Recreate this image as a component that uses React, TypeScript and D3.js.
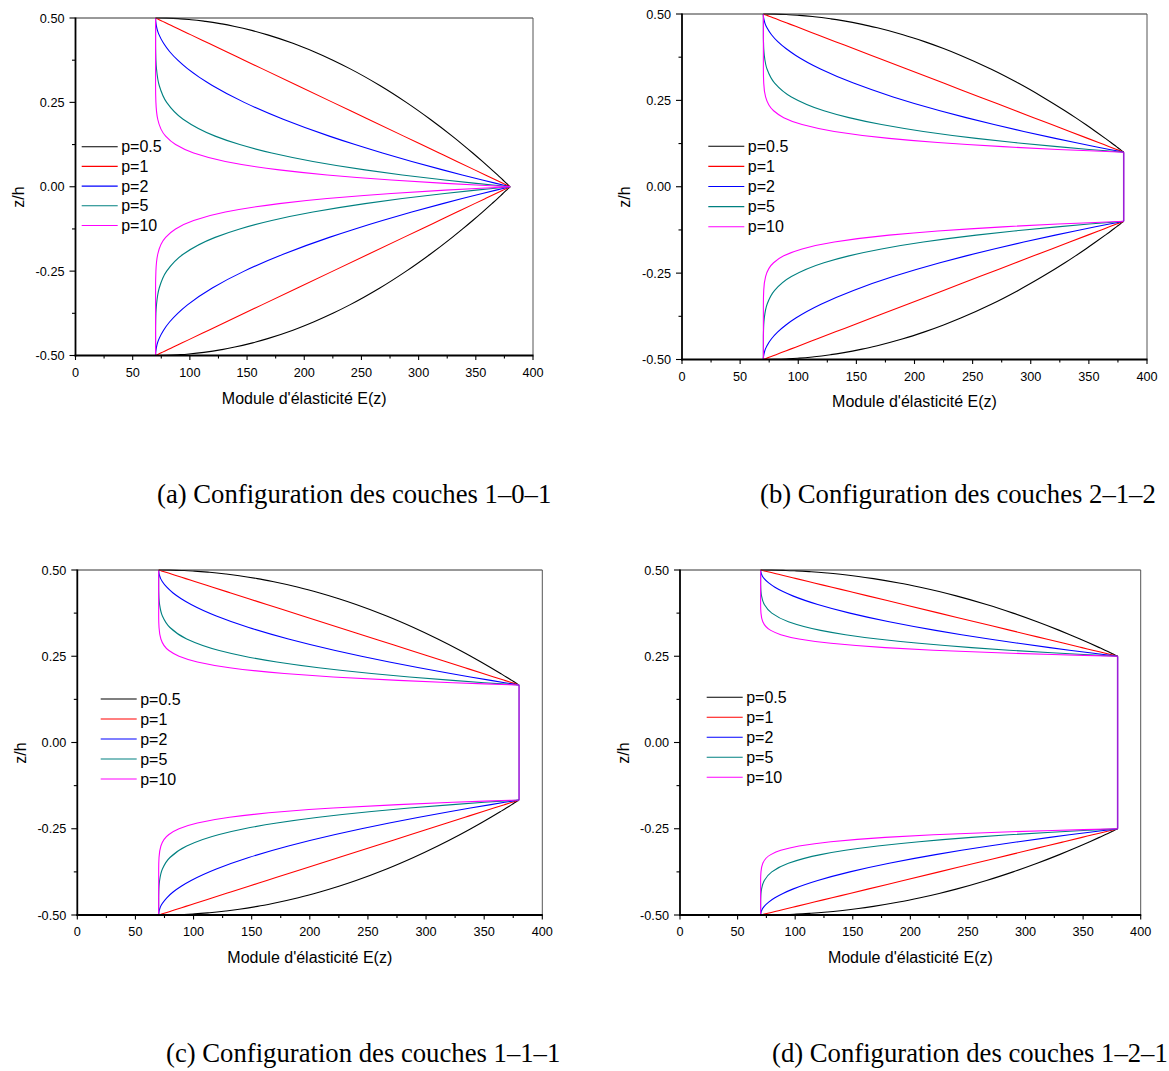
import React from "react";
import * as d3 from "d3";

// Fraction of a face sheet thickness, measured from the outer (metal) surface toward the core
const T_FRAC = [0, 0.001, 0.005, 0.01, 0.02, 0.035, 0.05, 0.075, 0.1, 0.15, 0.2, 0.25, 0.3, 0.4, 0.5, 0.6, 0.7, 0.75, 0.8, 0.85, 0.9, 0.93, 0.96, 0.98, 0.99, 1];

// Young's modulus E read along each face sheet for each power-law index p
const E_P05 = [70, 79.8, 91.9, 101, 113.8, 128.0, 139.3, 154.9, 168.0, 190.1, 208.6, 225, 239.8, 266.1, 289.2, 310.1, 329.4, 338.5, 347.3, 355.8, 364.1, 369.0, 373.7, 376.9, 378.4, 380];
const E_P1 = [70, 70.3, 71.6, 73.1, 76.2, 80.9, 85.5, 93.3, 101, 116.5, 132, 147.5, 163, 194, 225, 256, 287, 302.5, 318, 333.5, 349, 358.3, 367.6, 373.8, 376.9, 380];
const E_P2 = [70, 70, 70, 70, 70.1, 70.4, 70.8, 71.7, 73.1, 77.0, 82.4, 89.4, 97.9, 119.6, 147.5, 181.6, 221.9, 244.4, 268.4, 294.0, 321.1, 338.1, 355.7, 367.7, 373.8, 380];
const E_P5 = [70, 70, 70, 70, 70, 70, 70, 70, 70, 70, 70.1, 70.3, 70.8, 73.2, 79.7, 94.1, 122.1, 143.6, 171.6, 207.6, 253.1, 285.7, 322.8, 350.2, 364.8, 380];
const E_P10 = [70, 70, 70, 70, 70, 70, 70, 70, 70, 70, 70, 70, 70, 70, 70.3, 71.9, 78.8, 87.5, 103.3, 131.0, 178.1, 220.0, 276.1, 323.3, 350.4, 380];

const SERIES_LABELS = ["p=0.5", "p=1", "p=2", "p=5", "p=10"];
const SERIES_VALUES = [E_P05, E_P1, E_P2, E_P5, E_P10];
const SERIES_COLORS = ["#000000", "#ff0000", "#0000ff", "#008080", "#ff00ff"];

// Half-thickness of the ceramic core (z/h) for each configuration
const CORE_HALF = [0, 0.1, 0.1667, 0.25];
const CORE_E = 380;
const CAPTIONS = [
  "(a) Configuration des couches 1\u20130\u20131",
  "(b) Configuration des couches 2\u20131\u20132",
  "(c) Configuration des couches 1\u20131\u20131",
  "(d) Configuration des couches 1\u20132\u20131",
];

const X_TICKS = [0, 50, 100, 150, 200, 250, 300, 350, 400];
const X_MINOR = [25, 75, 125, 175, 225, 275, 325, 375];
const Y_TICKS = [-0.5, -0.25, 0, 0.25, 0.5];
const Y_MINOR = [-0.375, -0.125, 0.125, 0.375];

const X_LABEL = "Module d'élasticité E(z)";
const Y_LABEL = "z/h";

// Layout (pixels)
const PANELS = [
  { l: 75.5, r: 533, t: 18, b: 355.5, legX: 81.7, legY: 146.7, legDy: 19.7, yLabX: 24, yLabY: 197, xLabY: 404, capX: 157, capY: 503 },
  { l: 682, r: 1147, t: 14, b: 359.5, legX: 708.3, legY: 146.3, legDy: 20.1, yLabX: 630, yLabY: 197, xLabY: 407, capX: 760, capY: 503 },
  { l: 77.3, r: 542.3, t: 570, b: 915, legX: 100.7, legY: 699, legDy: 20, yLabX: 26, yLabY: 753, xLabY: 963, capX: 166, capY: 1062 },
  { l: 680, r: 1140.7, t: 570, b: 915, legX: 706.7, legY: 697.3, legDy: 20, yLabX: 629, yLabY: 753, xLabY: 963, capX: 772, capY: 1062 },
];

const SANS = "Arial, 'Liberation Sans', Helvetica, sans-serif";
const SERIF = "'Times New Roman', 'Liberation Serif', Times, serif";

function fmtY(v: number) {
  return v.toFixed(2);
}

function Panel({ idx }: { idx: number }) {
  const P = PANELS[idx];
  const c = CORE_HALF[idx];
  const x = d3.scaleLinear().domain([0, 400]).range([P.l, P.r]);
  const y = d3.scaleLinear().domain([-0.5, 0.5]).range([P.b, P.t]);
  const line = d3
    .line<[number, number]>()
    .x((d) => x(d[0]))
    .y((d) => y(d[1]))
    .curve(d3.curveMonotoneY);

  const paths = SERIES_VALUES.map((vals, si) => {
    // bottom face sheet: z from -0.5 up to -c
    const bottom: [number, number][] = T_FRAC.map((t, i) => [vals[i], -0.5 + t * (0.5 - c)]);
    // top face sheet: z from c up to 0.5
    const top: [number, number][] = T_FRAC.map((t, i) => [vals[i], 0.5 - t * (0.5 - c)]).reverse() as [number, number][];
    return { bottom: line(bottom)!, top: line(top)!, color: SERIES_COLORS[si] };
  });

  const legLen = 36;
  return (
    <g>
      {/* curves */}
      {paths.map((p, i) => (
        <g key={i} fill="none" stroke={p.color} strokeWidth={1.1}>
          <path d={p.bottom} />
          <path d={p.top} />
        </g>
      ))}
      {c > 0 && (
        <line x1={x(CORE_E)} x2={x(CORE_E)} y1={y(-c)} y2={y(c)} stroke="#9c1ed8" strokeWidth={1.6} />
      )}
      {/* frame: top & right thin */}
      <line x1={P.l} x2={P.r} y1={P.t} y2={P.t} stroke="#333" strokeWidth={1} />
      <line x1={P.r} x2={P.r} y1={P.t} y2={P.b} stroke="#555" strokeWidth={1} />
      {/* left & bottom axes */}
      <line x1={P.l} x2={P.l} y1={P.t - 0.5} y2={P.b + 0.9} stroke="#000" strokeWidth={1.8} />
      <line x1={P.l - 0.9} x2={P.r + 0.5} y1={P.b} y2={P.b} stroke="#000" strokeWidth={1.8} />
      {/* x ticks */}
      {X_TICKS.map((v) => (
        <g key={"xt" + v}>
          <line x1={x(v)} x2={x(v)} y1={P.b} y2={P.b + 4.5} stroke="#000" strokeWidth={1.1} />
          <text x={x(v)} y={P.b + 21} textAnchor="middle" fontSize={12.7} fontFamily={SANS} fill="#000">
            {v}
          </text>
        </g>
      ))}
      {X_MINOR.map((v) => (
        <line key={"xm" + v} x1={x(v)} x2={x(v)} y1={P.b} y2={P.b + 3} stroke="#000" strokeWidth={1.1} />
      ))}
      {/* y ticks */}
      {Y_TICKS.map((v) => (
        <g key={"yt" + v}>
          <line x1={P.l - 6} x2={P.l} y1={y(v)} y2={y(v)} stroke="#000" strokeWidth={1.1} />
          <text x={P.l - 11} y={y(v) + 4.5} textAnchor="end" fontSize={12.7} fontFamily={SANS} fill="#000">
            {fmtY(v)}
          </text>
        </g>
      ))}
      {Y_MINOR.map((v) => (
        <line key={"ym" + v} x1={P.l - 3.5} x2={P.l} y1={y(v)} y2={y(v)} stroke="#000" strokeWidth={1.1} />
      ))}
      {/* axis labels */}
      <text x={(P.l + P.r) / 2} y={P.xLabY} textAnchor="middle" fontSize={16} fontFamily={SANS} fill="#000">
        {X_LABEL}
      </text>
      <text
        transform={`translate(${P.yLabX},${P.yLabY}) rotate(-90)`}
        textAnchor="middle"
        fontSize={16}
        fontFamily={SANS}
        fill="#000"
      >
        {Y_LABEL}
      </text>
      {/* legend */}
      {SERIES_LABELS.map((lab, i) => {
        const ly = P.legY + i * P.legDy;
        return (
          <g key={"lg" + i}>
            <line x1={P.legX} x2={P.legX + legLen} y1={ly} y2={ly} stroke={SERIES_COLORS[i]} strokeWidth={1.1} />
            <text x={P.legX + legLen + 3.5} y={ly + 5.6} fontSize={16} fontFamily={SANS} fill="#000">
              {lab}
            </text>
          </g>
        );
      })}
      {/* caption */}
      <text x={P.capX} y={P.capY} fontSize={26.7} fontFamily={SERIF} fill="#000">
        {CAPTIONS[idx]}
      </text>
    </g>
  );
}

export default function App() {
  return (
    <svg
      width={1169}
      height={1071}
      viewBox="0 0 1169 1071"
      style={{ position: "absolute", left: 0, top: 0, background: "#fff" }}
    >
      <rect x={0} y={0} width={1169} height={1071} fill="#fff" />
      {CORE_HALF.map((_, i) => (
        <Panel key={i} idx={i} />
      ))}
    </svg>
  );
}
